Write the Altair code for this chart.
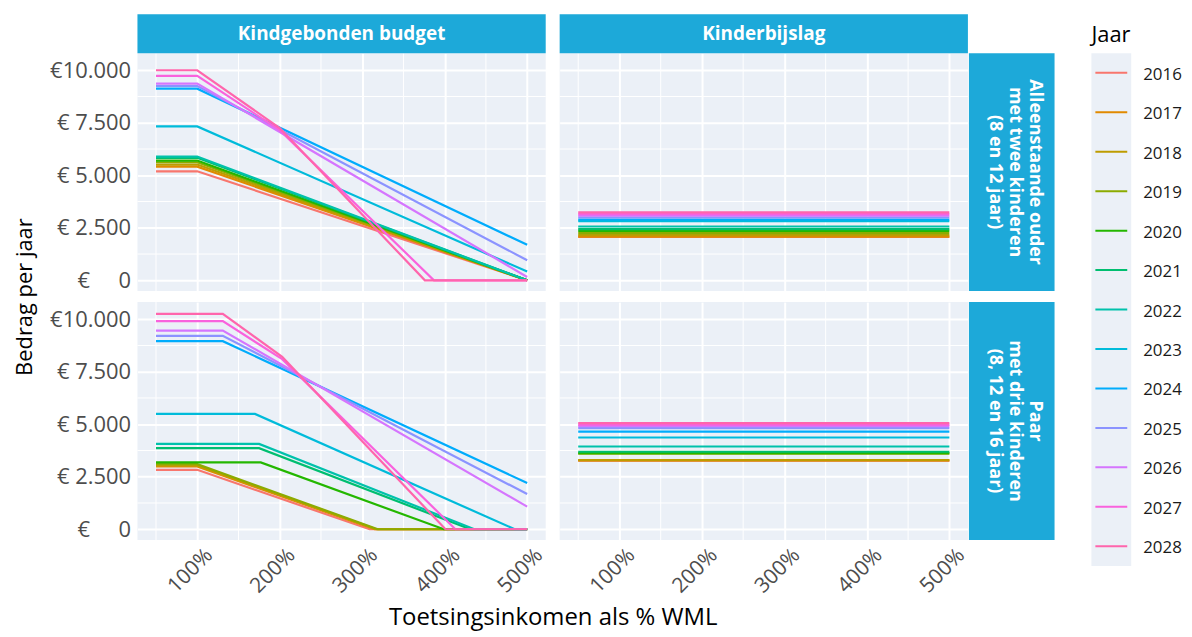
import altair as alt
import pandas as pd

# ---------------- data ----------------
jaren_int = list(range(2016, 2029))
jaren = [str(j) for j in jaren_int]
kleuren = ["#F8766D", "#E18A00", "#BE9C00", "#8CAB00", "#24B700", "#00BE70", "#00C1AB",
           "#00BBDA", "#00ACFC", "#8B93FF", "#D575FE", "#F962DD", "#FF65AC"]

regelingen = ["Kindgebonden budget", "Kinderbijslag"]
huishouden_regels = [
    ["Alleenstaande ouder", "met twee kinderen", "(8 en 12 jaar)"],
    ["Paar", "met drie kinderen", "(8, 12 en 16 jaar)"],
]

x_ticks = [100, 200, 300, 400, 500]
x_tick_labels = ["100%", "200%", "300%", "400%", "500%"]
x_minor = [50, 150, 250, 350, 450]
y_ticks = [0, 2500, 5000, 7500, 10000]
y_tick_labels = ["€\u00a0\u00a0\u00a0\u00a0\u00a00", "€\u00a02.500", "€\u00a05.000", "€\u00a07.500", "€10.000"]
y_minor = [1250, 3750, 6250, 8750]

# Kindgebonden budget - alleenstaande ouder (knots: inkomen % WML, bedrag)
kgb_alleen_inkomen = {
    2016: [50, 100, 500], 2017: [50, 100, 500], 2018: [50, 100, 500], 2019: [50, 100, 500],
    2020: [50, 100, 500], 2021: [50, 100, 500], 2022: [50, 100, 500], 2023: [50, 100, 500],
    2024: [50, 100, 500], 2025: [50, 100, 500], 2026: [50, 100, 500],
    2027: [50, 100, 200, 387, 500], 2028: [50, 100, 200, 376, 500],
}
kgb_alleen_bedrag = {
    2016: [5190, 5190, 0], 2017: [5410, 5410, 0], 2018: [5510, 5510, 0], 2019: [5620, 5620, 0],
    2020: [5700, 5700, 0], 2021: [5830, 5830, 0], 2022: [5890, 5890, 0], 2023: [7325, 7325, 415],
    2024: [9125, 9125, 1690], 2025: [9250, 9250, 955], 2026: [9365, 9365, 160],
    2027: [9730, 9730, 7150, 0, 0], 2028: [10000, 10000, 7250, 0, 0],
}

# Kindgebonden budget - paar
kgb_paar_inkomen = {
    2016: [50, 100, 309, 500], 2017: [50, 100, 315, 500], 2018: [50, 100, 317, 500],
    2019: [50, 100, 319, 500], 2020: [50, 177, 399, 500], 2021: [50, 175, 431, 500],
    2022: [50, 175, 436, 500], 2023: [50, 170, 485, 500], 2024: [50, 131, 500],
    2025: [50, 131, 500], 2026: [50, 131, 500],
    2027: [50, 131, 203, 413, 500], 2028: [50, 131, 203, 401, 500],
}
kgb_paar_bedrag = {
    2016: [2830, 2830, 0, 0], 2017: [2990, 2990, 0, 0], 2018: [3040, 3040, 0, 0],
    2019: [3100, 3100, 0, 0], 2020: [3180, 3180, 0, 0], 2021: [3860, 3860, 0, 0],
    2022: [4065, 4065, 0, 0], 2023: [5490, 5490, 0, 0], 2024: [8955, 8955, 2200],
    2025: [9210, 9210, 1675], 2026: [9460, 9460, 1075],
    2027: [9905, 9905, 8100, 0, 0], 2028: [10255, 10255, 8210, 0, 0],
}

# Kinderbijslag (flat over income)
kb_inkomen = [50, 500]
kb_alleen_bedrag = [2069, 2083, 2150, 2246, 2355, 2437, 2561, 2819, 2895, 2991, 3072, 3153, 3230]
kb_paar_bedrag = [3260, 3276, 3292, 3600, 3625, 3690, 3940, 4367, 4652, 4811, 4906, 4984, 5050]

# ---------------- style ----------------
FONT = "Open Sans"
STRIP = "#1DA9D9"
PANEL = "#EBF0F7"
W, H = 410, 239
X_TITLE = "Toetsingsinkomen als % WML"
Y_TITLE = "Bedrag per jaar"


def expr_from(ticks, labels):
    e = "''"
    for t, l in reversed(list(zip(ticks, labels))):
        e = f"datum.value == {t} ? '{l}' : ({e})"
    return e


LBL_X = expr_from(x_ticks, x_tick_labels)
LBL_Y = expr_from(y_ticks, y_tick_labels)

xs = alt.Scale(domain=[27.5, 522.5], nice=False, zero=False)
ys = alt.Scale(domain=[-515, 10815], nice=False, zero=False)
cs = alt.Scale(domain=jaren, range=kleuren)


def frame(ink, bed):
    rows = []
    for j in jaren_int:
        for x, y in zip(ink[j], bed[j]):
            rows.append({"Jaar": str(j), "Inkomen": x, "Bedrag": y})
    return pd.DataFrame(rows)


df_tl = frame(kgb_alleen_inkomen, kgb_alleen_bedrag)
df_bl = frame(kgb_paar_inkomen, kgb_paar_bedrag)
df_tr = frame({j: kb_inkomen for j in jaren_int},
              {j: [v, v] for j, v in zip(jaren_int, kb_alleen_bedrag)})
df_br = frame({j: kb_inkomen for j in jaren_int},
              {j: [v, v] for j, v in zip(jaren_int, kb_paar_bedrag)})


def panel(df, pos, top_label=None, right_lines=None):
    left = pos in ("TL", "BL")
    bottom = pos in ("BL", "BR")
    xkw = dict(values=x_ticks, labelExpr=LBL_X, labels=bottom, grid=True, gridColor="white",
               gridWidth=2, domain=False, ticks=False, labelAngle=-45, labelAlign="right",
               labelBaseline="top", labelFontSize=21, labelColor="#4D4D4D", labelPadding=4,
               labelOffset=4, labelFont=FONT, labelFlush=False, labelOverlap=False)
    if pos == "BL":
        xkw.update(title=X_TITLE, titleX=W + 7, titleAnchor="middle", titleFontSize=24,
                   titleFontWeight="normal", titleColor="black", titleFont=FONT, titlePadding=9)
    else:
        xkw.update(title=None)
    ykw = dict(values=y_ticks, labelExpr=LBL_Y, labels=left, grid=True, gridColor="white",
               gridWidth=2, domain=False, ticks=False, labelFontSize=22, labelColor="#4D4D4D",
               labelPadding=7, labelFont=FONT, labelFlush=False, labelOverlap=False)
    if pos == "TL":
        ykw.update(title=Y_TITLE, titleY=H + 5.5, titleFontSize=22, titleFontWeight="normal",
                   titleColor="black", titleFont=FONT, titlePadding=13)
    else:
        ykw.update(title=None)
    xaxis = alt.Axis(**xkw)
    yaxis = alt.Axis(**ykw)

    mx = alt.Chart(pd.DataFrame({"v": x_minor})).mark_rule(color="white", strokeWidth=1).encode(
        x=alt.X("v:Q", scale=xs, axis=xaxis))
    my = alt.Chart(pd.DataFrame({"v": y_minor})).mark_rule(color="white", strokeWidth=1).encode(
        y=alt.Y("v:Q", scale=ys, axis=yaxis))
    lines = alt.Chart(df).mark_line(strokeWidth=2.2).encode(
        x=alt.X("Inkomen:Q", scale=xs, axis=xaxis),
        y=alt.Y("Bedrag:Q", scale=ys, axis=yaxis),
        color=alt.Color("Jaar:N", scale=cs, legend=None),
    )
    layers = [mx, my, lines]
    one = pd.DataFrame({"k": [0]})
    if top_label:
        layers.append(alt.Chart(one).mark_rect(color=STRIP).encode(
            x=alt.value(0), x2=alt.value(W), y=alt.value(-39), y2=alt.value(0)))
        layers.append(alt.Chart(one).mark_text(
            text=top_label, color="white", fontWeight="bold", fontSize=19, font=FONT,
            align="center", baseline="middle").encode(x=alt.value(W / 2), y=alt.value(-19)))
    if right_lines:
        layers.append(alt.Chart(one).mark_rect(color=STRIP).encode(
            x=alt.value(W + 1), x2=alt.value(W + 87), y=alt.value(0), y2=alt.value(H)))
        layers.append(alt.Chart(one).mark_text(
            text=right_lines, color="white", fontWeight="bold", fontSize=18, font=FONT,
            align="center", baseline="middle", angle=90, lineHeight=20).encode(
            x=alt.value(W + 67), y=alt.value(H / 2)))
    return alt.layer(*layers).properties(width=W, height=H)


tl = panel(df_tl, "TL", top_label=regelingen[0])
tr = panel(df_tr, "TR", top_label=regelingen[1], right_lines=huishouden_regels[0])
bl = panel(df_bl, "BL")
br = panel(df_br, "BR", right_lines=huishouden_regels[1])

grid = alt.concat(tl, tr, bl, br, columns=2, bounds="flush",
                  spacing={"row": 11, "column": 14})

# manual legend
leg_df = pd.DataFrame({"Jaar": jaren})
leg_y = alt.Y("Jaar:N", scale=alt.Scale(type="band", domain=jaren, paddingInner=0,
                                        paddingOuter=0), bandPosition=0.5, axis=None)
keys = alt.Chart(leg_df).mark_rule(strokeWidth=2).encode(
    y=leg_y, x=alt.value(4), x2=alt.value(36),
    color=alt.Color("Jaar:N", scale=cs, legend=None))
labs = alt.Chart(leg_df).mark_text(align="left", baseline="middle", fontSize=17, dy=2,
                                   color="#1A1A1A", font=FONT).encode(
    y=leg_y, x=alt.value(52), text="Jaar:N")
legend = alt.layer(keys, labs).properties(
    width=40, height=515,
    title=alt.TitleParams("Jaar", anchor="start", fontSize=22, fontWeight="normal",
                          offset=6, color="black", font=FONT))

chart = alt.hconcat(grid, legend, spacing=37).properties(
    padding={"left": 5, "top": 5, "right": 2, "bottom": 2}
).configure_view(fill=PANEL, stroke="transparent", strokeWidth=0)

chart.save("out.html", embed_options={"renderer": "svg", "actions": False})
